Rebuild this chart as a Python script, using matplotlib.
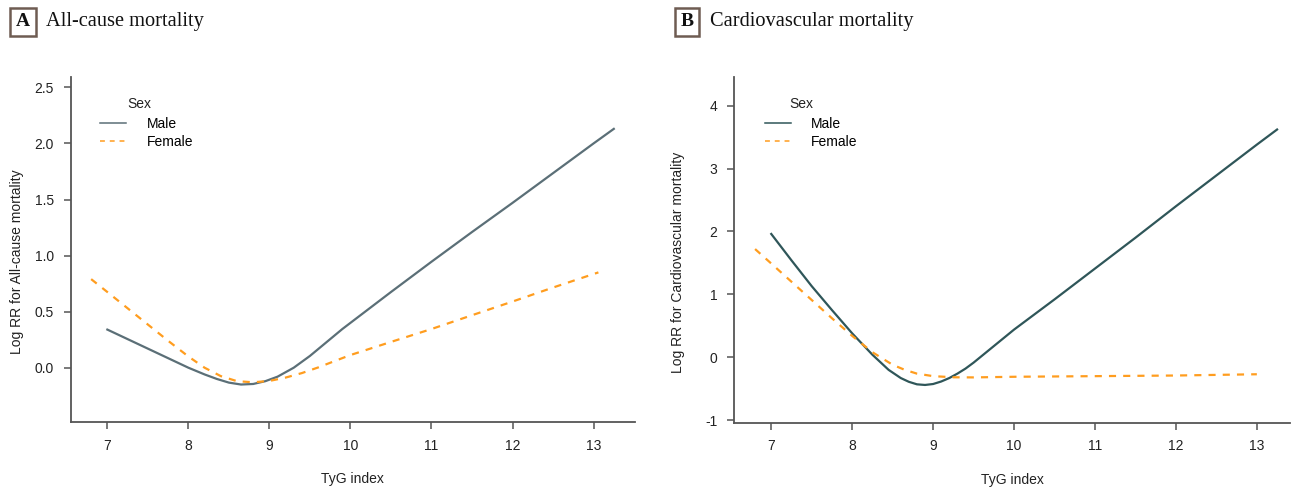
import matplotlib
matplotlib.use("Agg")
import matplotlib.pyplot as plt

plt.rcParams['font.family'] = ['Liberation Sans', 'DejaVu Sans']

# panel A: all-cause mortality
a_male_x = [7.0, 7.25, 7.5, 7.75, 8.0, 8.2, 8.35, 8.5, 8.65, 8.8, 8.95, 9.1, 9.3, 9.5, 9.7, 9.9,
            10.0, 10.5, 11.0, 11.5, 12.0, 12.5, 13.0, 13.25]
a_male_y = [0.34, 0.255, 0.17, 0.085, 0.0, -0.06, -0.1, -0.133, -0.15, -0.145, -0.12, -0.08,
            0.0, 0.105, 0.225, 0.345, 0.4, 0.675, 0.945, 1.21, 1.47, 1.735, 2.0, 2.13]
a_fem_x = [6.8, 7.0, 7.25, 7.5, 7.75, 8.0, 8.2, 8.4, 8.6, 8.8, 9.0, 9.2, 9.4, 9.6, 9.8,
           10.0, 10.5, 11.0, 11.5, 12.0, 12.5, 13.06]
a_fem_y = [0.79, 0.675, 0.53, 0.385, 0.24, 0.1, 0.0, -0.075, -0.12, -0.13, -0.118, -0.088,
           -0.048, 0.002, 0.058, 0.113, 0.23, 0.345, 0.468, 0.59, 0.715, 0.85]

# panel B: cardiovascular mortality
b_male_x = [7.0, 7.25, 7.5, 7.75, 8.0, 8.25, 8.45, 8.6, 8.7, 8.8, 8.9, 9.0, 9.1, 9.2, 9.3, 9.4,
            9.5, 9.6, 9.8, 10.0, 10.5, 11.0, 11.5, 12.0, 12.5, 13.0, 13.25]
b_male_y = [1.96, 1.54, 1.13, 0.75, 0.38, 0.04, -0.2, -0.33, -0.39, -0.43, -0.44, -0.425,
            -0.385, -0.33, -0.26, -0.18, -0.085, 0.02, 0.23, 0.44, 0.92, 1.41, 1.9, 2.4, 2.89,
            3.38, 3.62]
b_fem_x = [6.8, 7.0, 7.25, 7.5, 7.75, 8.0, 8.25, 8.5, 8.65, 8.8, 9.0, 9.25, 9.5, 10.0, 11.0,
           12.0, 13.0]
b_fem_y = [1.72, 1.49, 1.2, 0.91, 0.62, 0.34, 0.08, -0.12, -0.2, -0.26, -0.3, -0.318, -0.32,
           -0.31, -0.3, -0.29, -0.27]

x_ticks = [7, 8, 9, 10, 11, 12, 13]
a_yticks = [0.0, 0.5, 1.0, 1.5, 2.0, 2.5]
b_yticks = [-1, 0, 1, 2, 3, 4]

fem_col = '#ff9d1f'
spine_col = '#555555'

fig = plt.figure(figsize=(12.93, 4.88), dpi=100)
axA = fig.add_axes([0.0547, 0.1346, 0.4363, 0.707])
axB = fig.add_axes([0.5677, 0.1338, 0.430, 0.7078])


def style(ax, yticks, ylabels, ylabel, lab_x):
    for s in ['top', 'right']:
        ax.spines[s].set_visible(False)
    for s in ['left', 'bottom']:
        ax.spines[s].set_color(spine_col)
        ax.spines[s].set_linewidth(1.3)
    ax.set_xticks(x_ticks)
    ax.set_yticks(yticks)
    ax.set_yticklabels(ylabels)
    ax.tick_params(direction='out', length=5, width=1.1, color=spine_col,
                   labelsize=10, labelcolor='#222222', pad=7)
    ax.set_xlabel('TyG index', fontsize=10, color='#222222', labelpad=14)
    ax.set_ylabel(ylabel, fontsize=10, color='#222222')
    ax.yaxis.set_label_coords(lab_x, 0.465)


axA.plot(a_male_x, a_male_y, color='#5b6f77', lw=1.6, label='Male')
axA.plot(a_fem_x, a_fem_y, color=fem_col, lw=1.6, linestyle=(0, (3.2, 3.2)), label='Female')
axA.set_xlim(6.548, 13.51)
axA.set_ylim(-0.487, 2.59)
style(axA, a_yticks, ['%.1f' % v for v in a_yticks], 'Log RR for All-cause mortality', -0.083)

axB.plot(b_male_x, b_male_y, color='#2f5659', lw=1.6, label='Male')
axB.plot(b_fem_x, b_fem_y, color=fem_col, lw=1.6, linestyle=(0, (3.2, 3.2)), label='Female')
axB.set_xlim(6.54, 13.41)
axB.set_ylim(-1.04, 4.45)
style(axB, b_yticks, [str(v) for v in b_yticks], 'Log RR for Cardiovascular mortality', -0.088)

# legends: title placed as separate text like the R output
for ax, lx, tx in [(axA, 0.052, 0.1), (axB, 0.055, 0.1)]:
    leg = ax.legend(loc='upper left', bbox_to_anchor=(lx, 0.885), frameon=False,
                    fontsize=10, handlelength=1.9, handletextpad=1.45,
                    labelspacing=0.3, borderpad=0, borderaxespad=0)
    for h in leg.get_lines():
        h.set_linewidth(1.1)
    ax.text(tx, 0.922, 'Sex', transform=ax.transAxes, fontsize=10, color='#222222',
            ha='left', va='center')

# panel headers
for xl, letter, title in [(0.0178, 'A', 'All-cause mortality'), (0.5313, 'B', 'Cardiovascular mortality')]:
    fig.text(xl, 0.955, letter, family='Liberation Serif', fontsize=14, fontweight='bold',
             va='center', ha='center', color='#111111',
             bbox=dict(boxstyle='square,pad=0.3', fc='white', ec='#6e5c52', lw=1.8))
    fig.text(xl + 0.0175, 0.955, title, family='Liberation Serif', fontsize=14.7,
             va='center', ha='left', color='#111111')

fig.savefig('out.png', dpi=100)
